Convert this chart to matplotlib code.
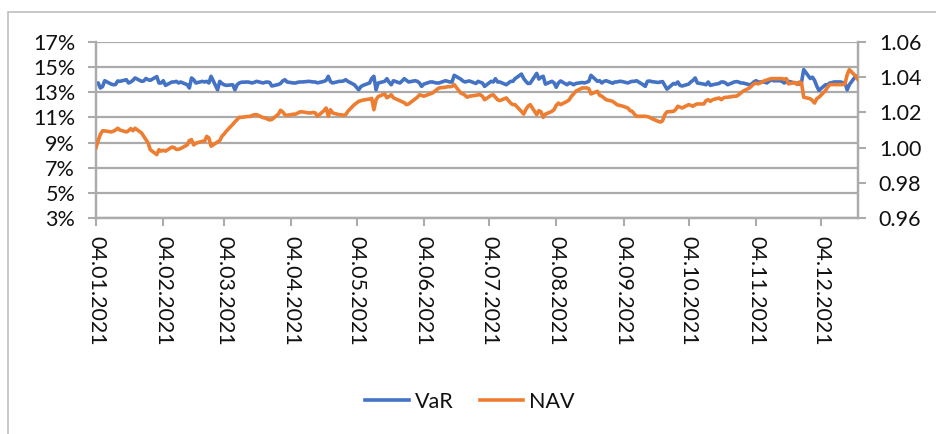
import matplotlib
matplotlib.use("Agg")
import matplotlib.pyplot as plt
import matplotlib.dates as mdates
from matplotlib.ticker import FixedLocator, FuncFormatter
from matplotlib.patches import Rectangle
import pandas as pd

plt.rcParams['font.family'] = ['Lato', 'DejaVu Sans']

start_date = "2021-01-04"
tick_dates = ["2021-01-04", "2021-02-04", "2021-03-04", "2021-04-04", "2021-05-04", "2021-06-04",
              "2021-07-04", "2021-08-04", "2021-09-04", "2021-10-04", "2021-11-04", "2021-12-04"]
var_ticks = [0.03, 0.05, 0.07, 0.09, 0.11, 0.13, 0.15, 0.17]
nav_ticks = [0.96, 0.98, 1.00, 1.02, 1.04, 1.06]

# VaR (%), one value per business day
var_jan = [13.74, 13.74, 13.34, 13.45, 13.92, 13.65, 13.6, 13.62, 13.9, 13.87, 14.0, 13.74, 13.82, 13.95, 14.14, 13.87, 13.9, 14.1, 14.0, 13.95]
var_feb = [14.25, 13.74, 13.74, 13.92, 13.55, 13.82, 13.82, 13.87, 13.74, 13.82, 13.6, 13.34, 14.14, 14.0, 13.74, 13.87, 13.82, 13.87, 13.74, 14.27]
var_mar = [13.2, 13.87, 13.7, 13.6, 13.55, 13.6, 13.2, 13.6, 13.74, 13.8, 13.82, 13.78, 13.74, 13.8, 13.87, 13.74, 13.8, 13.82, 13.78, 13.5, 13.62, 13.7, 13.9]
var_apr = [14.0, 13.82, 13.74, 13.74, 13.8, 13.82, 13.82, 13.87, 13.85, 13.82, 13.82, 13.75, 13.87, 13.95, 14.27, 13.85, 13.74, 13.87, 13.87, 13.9, 14.0, 13.87]
var_may = [13.6, 13.4, 13.2, 13.45, 13.55, 13.74, 14.1, 14.27, 13.2, 13.74, 13.87, 14.08, 13.8, 13.6, 13.92, 13.74, 13.9, 14.08, 13.95, 13.82, 13.92]
var_jun = [13.87, 13.74, 13.47, 13.65, 13.82, 13.82, 13.77, 13.74, 13.74, 13.92, 13.87, 13.82, 13.82, 14.35, 14.05, 13.9, 13.82, 13.87, 13.9, 13.7, 13.87, 13.8]
var_jul = [13.74, 13.47, 13.87, 13.82, 14.08, 13.82, 13.82, 13.6, 13.74, 13.87, 13.87, 14.08, 14.45, 14.1, 13.87, 13.7, 13.72, 14.5, 14.05, 14.2, 14.27, 13.65]
var_aug = [13.87, 13.75, 13.4, 13.74, 13.9, 13.6, 13.74, 13.7, 13.6, 13.7, 13.78, 13.74, 13.8, 13.87, 14.35, 13.87, 13.92, 13.74, 13.87, 13.92, 13.72, 13.82]
var_sep = [13.82, 13.87, 13.87, 13.74, 13.82, 13.87, 13.87, 13.92, 13.6, 13.47, 13.87, 13.9, 13.85, 13.78, 13.82, 13.85, 13.55, 13.25, 13.7, 13.65, 13.82, 13.55]
var_oct = [13.5, 13.65, 13.82, 13.95, 14.14, 13.74, 13.65, 13.6, 13.82, 13.55, 13.6, 13.7, 13.82, 13.82, 13.74, 13.6, 13.82, 13.85, 13.82, 13.74, 13.74]
var_nov = [13.6, 13.65, 13.82, 13.92, 13.82, 13.82, 13.74, 13.87, 14.0, 13.92, 13.92, 13.87, 13.74, 13.82, 13.87, 13.74, 13.74, 13.65, 13.82, 14.8, 14.1, 14.2]
var_dec = [13.95, 13.5, 13.15, 13.6, 13.6, 13.74, 13.77, 13.82, 13.82, 13.77, 13.74, 13.2, 13.6, 14.3, 14.2]

# NAV, one value per business day
nav_jan = [1.000, 1.004, 1.0075, 1.0095, 1.0095, 1.0089, 1.0093, 1.010, 1.011, 1.010, 1.0089, 1.0096, 1.0108, 1.0096, 1.011, 1.0083, 1.0064, 1.0045, 1.0026, 0.9988]
nav_feb = [0.996, 0.9988, 0.998, 0.9985, 0.998, 1.0003, 1.000, 0.999, 0.999, 0.9995, 1.0015, 1.004, 1.0045, 1.0015, 1.0025, 1.0036, 1.0036, 1.0064, 1.0055, 1.0008]
nav_mar = [1.0032, 1.004, 1.0064, 1.0077, 1.0093, 1.0132, 1.0147, 1.0159, 1.0172, 1.0172, 1.0177, 1.0177, 1.0183, 1.0187, 1.0187, 1.017, 1.0168, 1.0162, 1.0157, 1.016, 1.019, 1.0212, 1.0203]
nav_apr = [1.0187, 1.0183, 1.019, 1.019, 1.0197, 1.0203, 1.0203, 1.0197, 1.0197, 1.020, 1.0197, 1.0178, 1.021, 1.0225, 1.0178, 1.0215, 1.0197, 1.0187, 1.0187, 1.0183, 1.0187, 1.0206]
nav_may = [1.0244, 1.0253, 1.0263, 1.0266, 1.027, 1.0276, 1.028, 1.0215, 1.0272, 1.029, 1.0305, 1.0283, 1.029, 1.030, 1.0283, 1.0266, 1.026, 1.0255, 1.0244, 1.0248, 1.0276]
nav_jun = [1.0286, 1.030, 1.0297, 1.0292, 1.0305, 1.031, 1.032, 1.033, 1.0339, 1.0343, 1.0346, 1.0346, 1.0348, 1.0358, 1.031, 1.0305, 1.0297, 1.0286, 1.0292, 1.0297, 1.030, 1.030]
nav_jul = [1.0292, 1.0272, 1.0297, 1.030, 1.0286, 1.0272, 1.0267, 1.0282, 1.0267, 1.0253, 1.0244, 1.0244, 1.0205, 1.019, 1.0216, 1.0235, 1.0244, 1.0187, 1.021, 1.0203, 1.0172, 1.019]
nav_aug = [1.0206, 1.0216, 1.024, 1.0253, 1.0244, 1.0263, 1.0272, 1.0292, 1.0305, 1.032, 1.0339, 1.0339, 1.0339, 1.0335, 1.0305, 1.032, 1.0297, 1.0292, 1.0282, 1.0272, 1.0263, 1.0253]
nav_sep = [1.0244, 1.024, 1.0238, 1.0225, 1.021, 1.0206, 1.019, 1.0178, 1.0178, 1.0178, 1.0176, 1.0172, 1.0165, 1.0149, 1.0145, 1.0153, 1.0187, 1.0203, 1.0206, 1.0216, 1.0235, 1.023]
nav_oct = [1.0225, 1.0244, 1.024, 1.0235, 1.0244, 1.0248, 1.0248, 1.0267, 1.0272, 1.0263, 1.0272, 1.0282, 1.0272, 1.0282, 1.0286, 1.0286, 1.0292, 1.0292, 1.030, 1.031, 1.032]
nav_nov = [1.0339, 1.035, 1.0362, 1.0367, 1.0362, 1.038, 1.0384, 1.0388, 1.0392, 1.0392, 1.0392, 1.0392, 1.0388, 1.0392, 1.0362, 1.037, 1.0358, 1.0373, 1.0367, 1.0286, 1.0278, 1.0267]
nav_dec = [1.0253, 1.0278, 1.0286, 1.0324, 1.0343, 1.0358, 1.0358, 1.0358, 1.0358, 1.0358, 1.0362, 1.0414, 1.0443, 1.0405, 1.0386]

var_pct = (var_jan + var_feb + var_mar + var_apr + var_may + var_jun + var_jul + var_aug
           + var_sep + var_oct + var_nov + var_dec)
nav = (nav_jan + nav_feb + nav_mar + nav_apr + nav_may + nav_jun + nav_jul + nav_aug
       + nav_sep + nav_oct + nav_nov + nav_dec)
assert len(var_pct) == len(nav), (len(var_pct), len(nav))

dates = pd.bdate_range(start_date, periods=len(nav))
var = [v / 100 for v in var_pct]

W, H = 936, 434
fig = plt.figure(figsize=(W / 100, H / 100), dpi=100)
fig.patch.set_facecolor("white")

# outer chart frame
fig.patches.append(Rectangle((8 / W, -0.2), 1.5, 1 - 12 / H + 0.2, transform=fig.transFigure,
                             fill=False, edgecolor="#BFBFBF", linewidth=1.2))

ax = fig.add_axes([96 / W, 1 - 218 / H, (858 - 96) / W, (218 - 42) / H])
ax2 = ax.twinx()

grid_c = "#ABABAB"
text_c = "#111111"
fs = 15.5

ax.plot(dates, var, color="#4472C4", linewidth=2.6, label="VaR", solid_joinstyle="round", zorder=3)
ax2.plot(dates, nav, color="#ED7D31", linewidth=2.6, label="NAV", solid_joinstyle="round", zorder=3)

ax.set_xlim(dates[0], dates[-1])
ax.set_ylim(0.03, 0.17)
ax2.set_ylim(0.96, 1.06)

ax.yaxis.set_major_locator(FixedLocator(var_ticks))
ax.yaxis.set_major_formatter(FuncFormatter(lambda v, p: f"{v*100:.0f}%"))
ax2.yaxis.set_major_locator(FixedLocator(nav_ticks))
ax2.yaxis.set_major_formatter(FuncFormatter(lambda v, p: f"{v:.2f}"))

ax.xaxis.set_major_locator(FixedLocator(mdates.date2num(pd.to_datetime(tick_dates))))
ax.xaxis.set_major_formatter(mdates.DateFormatter("%d.%m.%Y"))

ax.grid(axis="y", color=grid_c, linewidth=1.6)
ax.set_axisbelow(True)

for a in (ax, ax2):
    for s in a.spines.values():
        s.set_color(grid_c)
        s.set_linewidth(1.6)
    a.spines["top"].set_visible(False)

ax.tick_params(axis="y", length=6, width=1.5, color=grid_c, labelsize=fs, labelcolor=text_c, pad=9)
ax2.tick_params(axis="y", length=6, width=1.5, color=grid_c, labelsize=fs, labelcolor=text_c, pad=9)
ax.tick_params(axis="x", length=6, width=1.5, color=grid_c, labelsize=fs, labelcolor=text_c, pad=7)
for lbl in ax.get_xticklabels():
    lbl.set_rotation(-90)
    lbl.set_ha("center")
    lbl.set_va("top")

h1, l1 = ax.get_legend_handles_labels()
h2, l2 = ax2.get_legend_handles_labels()
fig.legend(h1 + h2, l1 + l2, loc="center", bbox_to_anchor=(470 / W, 1 - 402 / H), ncol=2,
           frameon=False, fontsize=fs, handlelength=2.0, columnspacing=1.2, handletextpad=0.3,
           labelcolor=text_c)

fig.savefig("out.png", dpi=100)
